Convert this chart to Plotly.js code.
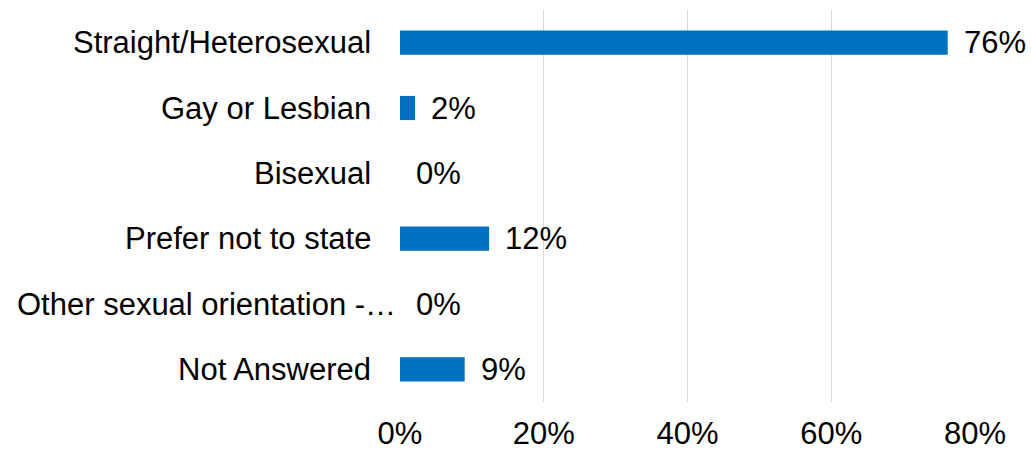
<!DOCTYPE html>
<html>
<head>
<meta charset="utf-8">
<script src="https://cdn.plot.ly/plotly-3.0.1.min.js"></script>
<style>
  html, body { margin: 0; padding: 0; background: #fff; }
  #plotArea { width: 1031px; height: 455px; }
</style>
</head>
<body>
<div id="plotArea"></div>
<script>
// categories and shares
var categories = ["Straight/Heterosexual", "Gay or Lesbian", "Bisexual", "Prefer not to state", "Other sexual orientation -…", "Not Answered"];
var shares = [0.762, 0.021, 0, 0.124, 0, 0.09];
var xTicks = [0, 0.2, 0.4, 0.6, 0.8];
var xTickLabels = ["0%", "20%", "40%", "60%", "80%"];

var fontFamily = "Liberation Sans, Arial, sans-serif";
var fontSize = 31;

var trace = {
    type: "bar",
    orientation: "h",
    x: shares,
    y: categories,
    marker: {color: "#0070C0"},
    hoverinfo: "none"
};

// value labels next to the bar ends
var annotations = categories.map(function (c, i) {
    return {
        x: shares[i], y: c, xref: "x", yref: "y",
        text: Math.round(shares[i] * 100) + "%",
        showarrow: false, xanchor: "left", xshift: 14,
        font: {family: fontFamily, size: fontSize, color: "#000"}
    };
});

// category labels, the long one sits closer to the axis as in the original
categories.forEach(function (c, i) {
    annotations.push({
        x: 0, y: c, xref: "paper", yref: "y",
        text: c, showarrow: false, xanchor: "right",
        xshift: c.indexOf("…") >= 0 ? -2 : -27,
        font: {family: fontFamily, size: fontSize, color: "#000"}
    });
});

var layout = {
    width: 1031,
    height: 455,
    margin: {l: 400, r: 56, t: 10, b: 53},
    paper_bgcolor: "#fff",
    plot_bgcolor: "#fff",
    showlegend: false,
    bargap: 0.63,
    font: {family: fontFamily, size: fontSize, color: "#000"},
    xaxis: {
        range: [0, 0.8],
        tickvals: xTicks,
        ticktext: xTickLabels,
        showgrid: true,
        gridcolor: "#d9d9d9",
        gridwidth: 1,
        zeroline: false,
        showline: false,
        ticks: "",
        ticklabelstandoff: 10,
        tickfont: {family: fontFamily, size: fontSize, color: "#000"},
        fixedrange: true
    },
    yaxis: {
        autorange: "reversed",
        showticklabels: false,
        showgrid: false,
        zeroline: false,
        showline: false,
        ticks: "",
        fixedrange: true
    },
    annotations: annotations
};

Plotly.newPlot("plotArea", [trace], layout, {displayModeBar: false, staticPlot: true});
</script>
</body>
</html>
